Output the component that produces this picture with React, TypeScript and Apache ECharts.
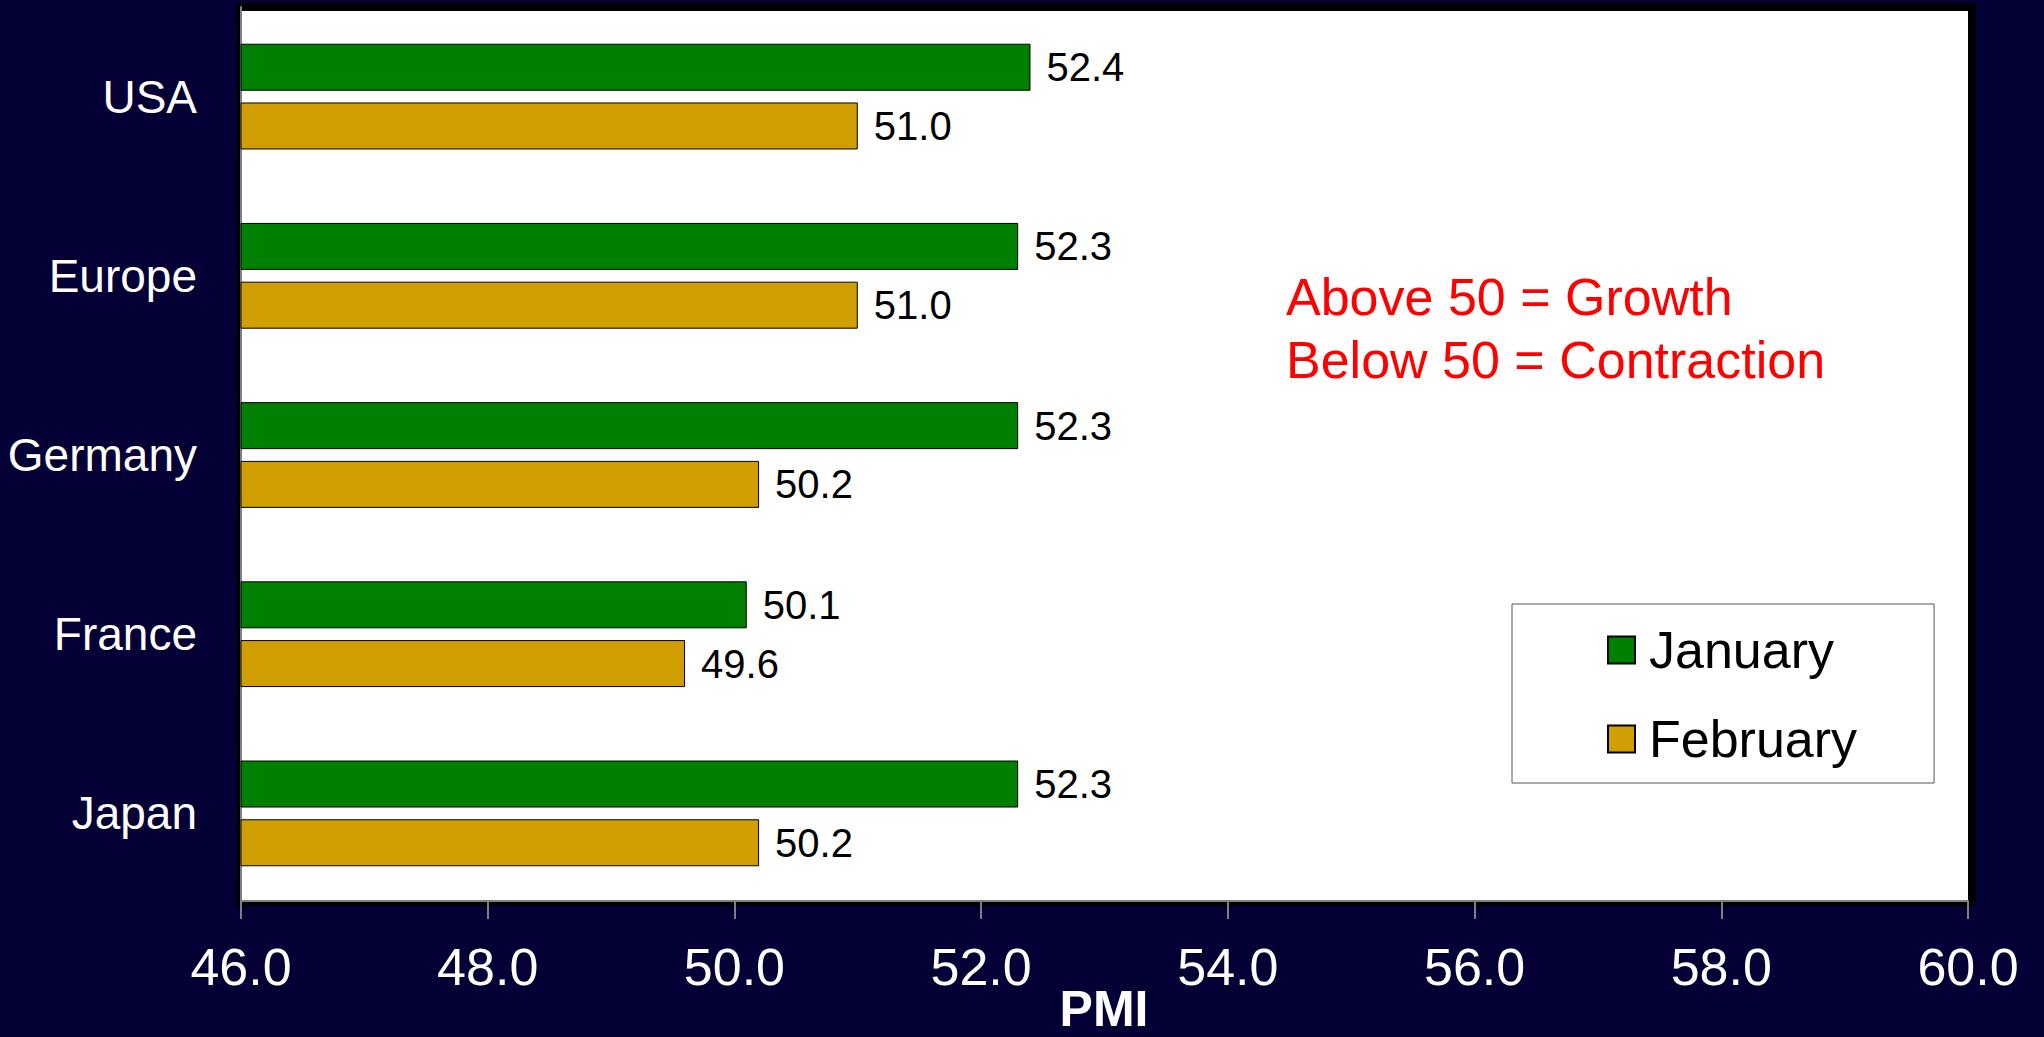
import React, { useEffect, useRef } from "react";
import * as echarts from "echarts";

// Purchasing Managers' Index by region, two consecutive months
const regions = ["USA", "Europe", "Germany", "France", "Japan"];
const januaryPMI = [52.4, 52.3, 52.3, 50.1, 52.3];
const februaryPMI = [51.0, 51.0, 50.2, 49.6, 50.2];
const seriesNames = ["January", "February"];
const axisMin = 46;
const axisMax = 60;
const axisStep = 2;
const axisTitle = "PMI";
const noteLines = ["Above 50 = Growth", "Below 50 = Contraction"];

const FONT = "'Liberation Sans', Arial, Helvetica, sans-serif";
const BG = "#040036";
const GREEN = "#008000";
const GOLD = "#D09E00";

export default function App() {
  const ref = useRef<HTMLDivElement>(null);

  useEffect(() => {
    if (!ref.current) return;
    const chart = echarts.init(ref.current, null, { renderer: "svg" });

    const barLabel = {
      show: true,
      position: "right",
      distance: 16,
      color: "#000",
      fontFamily: FONT,
      fontSize: 40,
      formatter: (p: any) => Number(p.value).toFixed(1),
    };

    chart.setOption({
      animation: false,
      backgroundColor: BG,
      textStyle: { fontFamily: FONT },
      grid: {
        left: 241,
        width: 1727,
        top: 7,
        height: 896,
        show: false,
        outerBoundsMode: "none",
        containLabel: false,
      },
      graphic: [
        // white plotting surface
        { type: "rect", z: -5, shape: { x: 242, y: 11, width: 1726, height: 890 }, style: { fill: "#ffffff" } },
        // dark frame strips around the plotting surface
        { type: "rect", shape: { x: 237, y: 3, width: 1739, height: 8 }, style: { fill: "#000" } },
        { type: "rect", shape: { x: 1968, y: 3, width: 8, height: 903 }, style: { fill: "#000" } },
        { type: "rect", shape: { x: 237, y: 3, width: 3, height: 903 }, style: { fill: "#000" } },
        { type: "rect", shape: { x: 237, y: 902, width: 1739, height: 4 }, style: { fill: "#000" } },
        {
          type: "text",
          x: 1286,
          y: 265,
          style: {
            text: noteLines.join("\n"),
            fill: "#ff0000",
            font: `52px ${FONT}`,
            lineHeight: 63,
            verticalAlign: "top",
          },
        },
        // value-axis title, centred under the plotting area
        {
          type: "text",
          x: 1104,
          y: 984,
          style: {
            text: axisTitle,
            fill: "#ffffff",
            font: `bold 50px ${FONT}`,
            lineHeight: 50,
            align: "center",
            verticalAlign: "top",
          },
        },
      ],
      legend: {
        data: seriesNames,
        orient: "vertical",
        left: 1512,
        top: 604,
        padding: [20, 77, 18, 95],
        itemGap: 37,
        itemWidth: 27,
        itemHeight: 27,
        icon: "rect",
        backgroundColor: "#ffffff",
        borderColor: "#555555",
        borderWidth: 1,
        textStyle: {
          color: "#000",
          fontSize: 52,
          lineHeight: 52,
          fontFamily: FONT,
          padding: [0, 0, 0, 9],
        },
      },
      xAxis: {
        type: "value",
        min: axisMin,
        max: axisMax,
        interval: axisStep,
        offset: -2,
        axisLine: { show: true, lineStyle: { color: "#808080", width: 2 } },
        axisTick: { show: true, length: 18, lineStyle: { color: "#808080", width: 2 } },
        splitLine: { show: false },
        axisLabel: {
          color: "#ffffff",
          fontSize: 52,
          lineHeight: 52,
          margin: 40,
          fontFamily: FONT,
          formatter: (v: number) => v.toFixed(1),
        },
      },
      yAxis: {
        type: "category",
        inverse: true,
        data: regions,
        axisLine: { show: true, lineStyle: { color: "#808080", width: 2 } },
        axisTick: { show: false },
        axisLabel: {
          color: "#ffffff",
          fontSize: 46,
          margin: 44,
          fontFamily: FONT,
        },
      },
      series: [
        {
          name: seriesNames[0],
          type: "bar",
          data: januaryPMI,
          barWidth: 47,
          barGap: "25%",
          itemStyle: { color: GREEN, borderColor: "#000", borderWidth: 1 },
          label: barLabel,
        },
        {
          name: seriesNames[1],
          type: "bar",
          data: februaryPMI,
          barWidth: 47,
          barGap: "25%",
          itemStyle: { color: GOLD, borderColor: "#000", borderWidth: 1 },
          label: barLabel,
        },
      ],
    });

    return () => chart.dispose();
  }, []);

  return (
    <div
      ref={ref}
      style={{ position: "fixed", left: 0, top: 0, width: 2044, height: 1037, background: BG }}
    />
  );
}
